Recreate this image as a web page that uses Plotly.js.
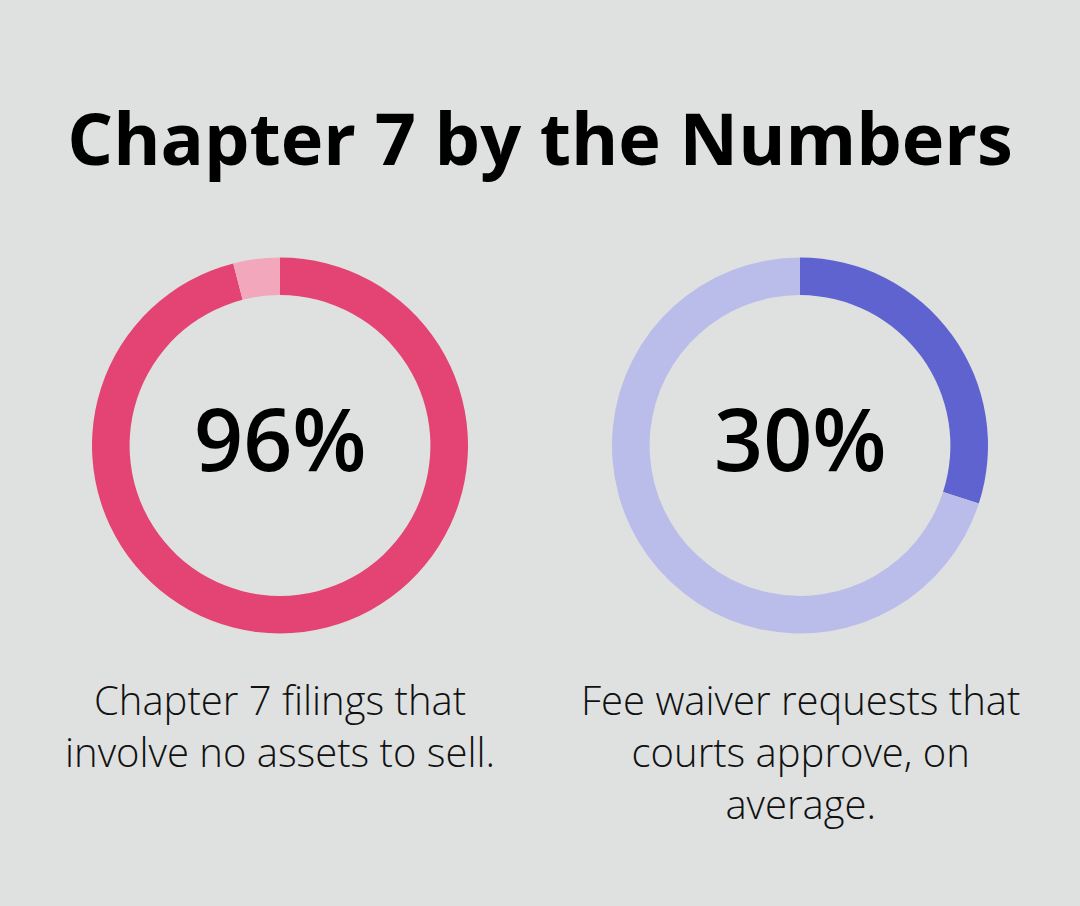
<!DOCTYPE html>
<html>
<head>
<meta charset="utf-8">
<script src="https://cdn.plot.ly/plotly-3.0.1.min.js"></script>
<style>html,body{margin:0;padding:0;background:#dfe1e0;}#chart{width:1080px;height:906px;}</style>
</head>
<body>
<div id="chart"></div>
<script>
const chartTitle = "Chapter 7 by the Numbers";
const metricLabels = ["96%", "30%"];
const captions = ["Chapter 7 filings that<br>involve no assets to sell.", "Fee waiver requests that<br>courts approve, on<br>average."];
const donut1Values = [96, 4];
const donut2Values = [30, 70];
const donut1Colors = ["#e34473", "#f2a7bd"];
const donut2Colors = ["#5f63cf", "#babde9"];

const common = {type: "pie", hole: 0.8, sort: false, direction: "clockwise", rotation: 0,
  textinfo: "none", hoverinfo: "none", showlegend: false};

const data = [
  Object.assign({}, common, {values: donut1Values, marker: {colors: donut1Colors, line: {width: 0}},
    domain: {x: [92/1080, 468/1080], y: [1-634/906, 1-257/906]}}),
  Object.assign({}, common, {values: donut2Values, marker: {colors: donut2Colors, line: {width: 0}},
    domain: {x: [612/1080, 988/1080], y: [1-634/906, 1-257/906]}})
];

const ff = "'Open Sans', sans-serif";
const layout = {
  width: 1080, height: 906,
  paper_bgcolor: "#dfe1e0", plot_bgcolor: "#dfe1e0",
  margin: {l: 0, r: 0, t: 0, b: 0},
  title: {text: "<b>" + chartTitle + "</b>", font: {family: ff, size: 72, color: "#000"},
    x: 0.5, xanchor: "center", y: 1 - 140/906, yanchor: "middle"},
  annotations: [
    {text: metricLabels[0], x: 280/1080, y: 1-437/906, xref: "paper", yref: "paper", showarrow: false,
      xanchor: "center", yanchor: "middle", font: {family: ff, size: 86, color: "#000", weight: 600}},
    {text: metricLabels[1], x: 800/1080, y: 1-437/906, xref: "paper", yref: "paper", showarrow: false,
      xanchor: "center", yanchor: "middle", font: {family: ff, size: 86, color: "#000", weight: 600}},
    {text: captions[0], x: 280/1080, y: 1-670/906, xref: "paper", yref: "paper", showarrow: false,
      xanchor: "center", yanchor: "top", align: "center", font: {family: ff, size: 40, color: "#111", weight: 300}},
    {text: captions[1], x: 800/1080, y: 1-670/906, xref: "paper", yref: "paper", showarrow: false,
      xanchor: "center", yanchor: "top", align: "center", font: {family: ff, size: 40, color: "#111", weight: 300}}
  ]
};
Plotly.newPlot("chart", data, layout, {displayModeBar: false, staticPlot: true});
</script>
</body>
</html>
